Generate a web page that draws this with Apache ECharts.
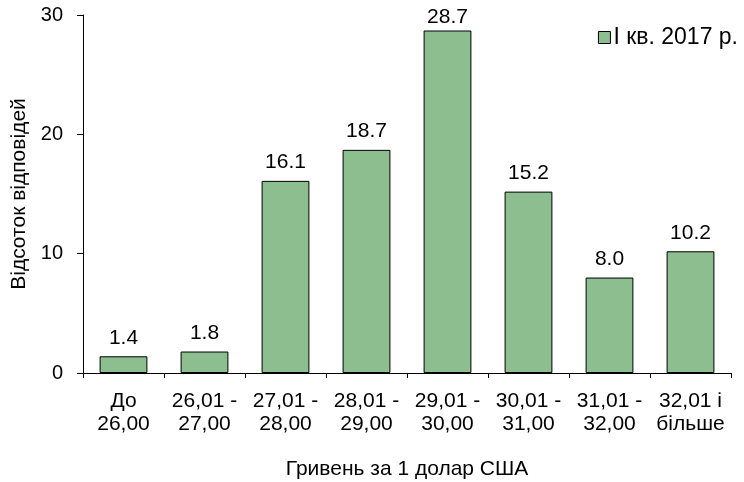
<!DOCTYPE html>
<html><head><meta charset="utf-8">
<script src="https://cdn.jsdelivr.net/npm/echarts@6/dist/echarts.min.js"></script>
<style>html,body{margin:0;padding:0;background:#fff}#c{width:744px;height:482px}</style>
</head><body><div id="c"></div>
<script>
const categories = ['До\n26,00','26,01 -\n27,00','27,01 -\n28,00','28,01 -\n29,00','29,01 -\n30,00','30,01 -\n31,00','31,01 -\n32,00','32,01 і\nбільше'];
const values = [1.4, 1.8, 16.1, 18.7, 28.7, 15.2, 8.0, 10.2];
const seriesName = 'І кв. 2017 р.';
const yTicks = [0, 10, 20, 30];

const F = '"Liberation Sans", Arial, sans-serif';
const yMax = yTicks[yTicks.length-1];
const chart = echarts.init(document.getElementById('c'));
chart.setOption({
  animation: false,
  grid: {left: 83, right: 13, top: 15, bottom: 109, containLabel: false, outerBoundsMode: 'none'},
  legend: {
    right: 1, top: 21, itemWidth: 12, itemHeight: 12, itemGap: 4,
    icon: 'rect',
    textStyle: {fontFamily: F, fontSize: 23, color: '#000', padding: [0,0,0,-2]},
    itemStyle: {borderColor: '#000', borderWidth: 1},
    data: [seriesName]
  },
  xAxis: {
    type: 'category', data: categories,
    name: 'Гривень за 1 долар США', nameLocation: 'middle', nameGap: 86,
    nameTextStyle: {fontFamily: F, fontSize: 21, color: '#000'},
    axisLine: {lineStyle: {color: '#000', width: 1}},
    axisTick: {show: true, length: 5, lineStyle: {color: '#000'}},
    axisLabel: {fontFamily: F, fontSize: 21, color: '#000', lineHeight: 23, margin: 17, interval: 0}
  },
  yAxis: {
    type: 'value', min: yTicks[0], max: yMax, interval: 10,
    name: 'Відсоток відповідей', nameLocation: 'middle', nameGap: 51,
    nameTextStyle: {fontFamily: F, fontSize: 21, color: '#000'},
    axisLine: {show: true, lineStyle: {color: '#000', width: 1}},
    axisTick: {show: true, length: 6, lineStyle: {color: '#000'}},
    splitLine: {show: false},
    axisLabel: {fontFamily: F, fontSize: 20, color: '#000', margin: 20}
  },
  series: [{
    name: seriesName, type: 'bar', barWidth: '59%',
    data: values.map(v => v > yMax - 2 ? {value: v, label: {distance: 3}} : v),
    itemStyle: {color: '#8cbe90', borderColor: '#000', borderWidth: 1},
    label: {show: true, position: 'top', distance: 8, fontFamily: F, fontSize: 21, color: '#000',
      formatter: p => p.value.toFixed(1)}
  }]
});
</script></body></html>
